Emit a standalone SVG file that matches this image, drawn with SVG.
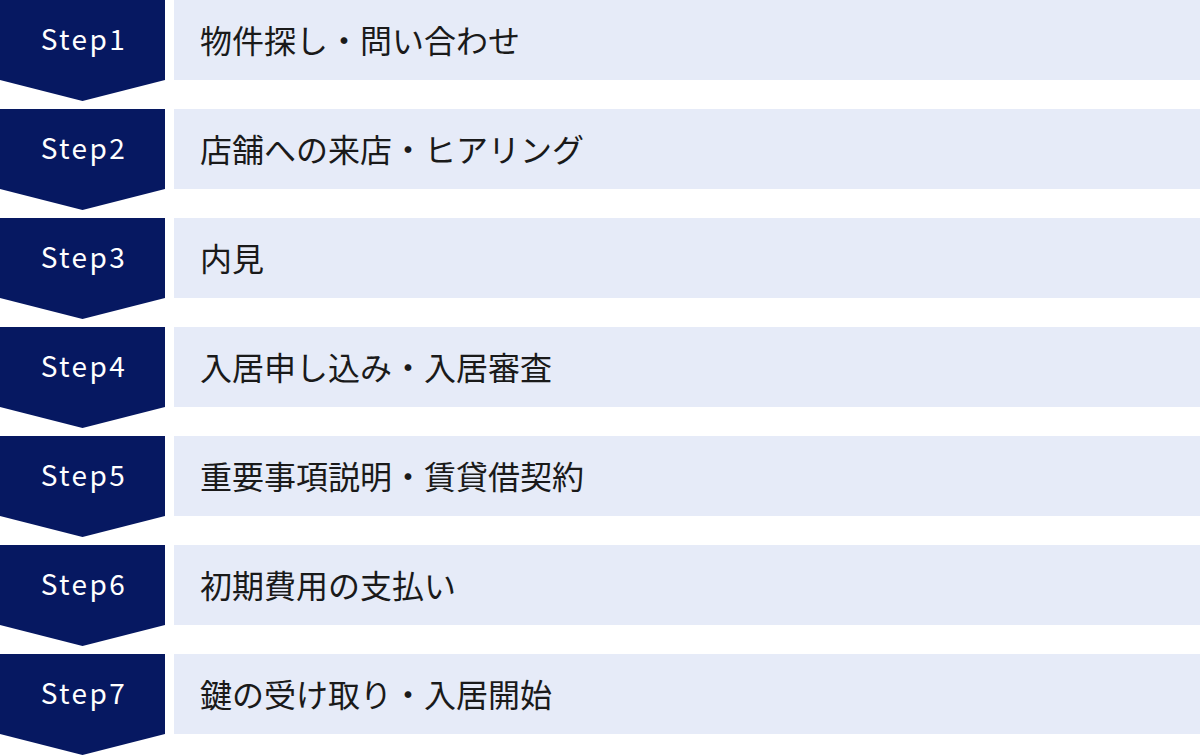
<svg xmlns="http://www.w3.org/2000/svg" width="1200" height="756" viewBox="0 0 1200 756">
<defs>
<style>
.badge{fill:#061861}
.box{fill:#e6ebf8}
.step{font-family:"Noto Sans CJK JP","Noto Sans",sans-serif;font-size:28px;fill:#ffffff;letter-spacing:2.4px;text-anchor:middle}
.label{font-family:"Noto Sans CJK JP","Noto Sans",sans-serif;font-size:32px;fill:#1a1a1a}
</style>
<path id="chev" d="M0 0H165V80L82.5 101L0 80Z"/>
</defs>
<rect width="1200" height="756" fill="#ffffff"/>
<g id="connectors"></g>
<g id="step1" transform="translate(0,0)">
<use href="#chev" class="badge"/><rect class="box" x="174" y="0" width="1026" height="80"/>
<text class="step" x="84" y="50">Step1</text><text class="label" x="200" y="52.5">物件探し・問い合わせ</text>
</g>
<g id="step2" transform="translate(0,109)">
<use href="#chev" class="badge"/><rect class="box" x="174" y="0" width="1026" height="80"/>
<text class="step" x="84" y="50">Step2</text><text class="label" x="200" y="52.5">店舗への来店・ヒアリング</text>
</g>
<g id="step3" transform="translate(0,218)">
<use href="#chev" class="badge"/><rect class="box" x="174" y="0" width="1026" height="80"/>
<text class="step" x="84" y="50">Step3</text><text class="label" x="200" y="52.5">内見</text>
</g>
<g id="step4" transform="translate(0,327)">
<use href="#chev" class="badge"/><rect class="box" x="174" y="0" width="1026" height="80"/>
<text class="step" x="84" y="50">Step4</text><text class="label" x="200" y="52.5">入居申し込み・入居審査</text>
</g>
<g id="step5" transform="translate(0,436)">
<use href="#chev" class="badge"/><rect class="box" x="174" y="0" width="1026" height="80"/>
<text class="step" x="84" y="50">Step5</text><text class="label" x="200" y="52.5">重要事項説明・賃貸借契約</text>
</g>
<g id="step6" transform="translate(0,545)">
<use href="#chev" class="badge"/><rect class="box" x="174" y="0" width="1026" height="80"/>
<text class="step" x="84" y="50">Step6</text><text class="label" x="200" y="52.5">初期費用の支払い</text>
</g>
<g id="step7" transform="translate(0,654)">
<use href="#chev" class="badge"/><rect class="box" x="174" y="0" width="1026" height="80"/>
<text class="step" x="84" y="50">Step7</text><text class="label" x="200" y="52.5">鍵の受け取り・入居開始</text>
</g>
</svg>
